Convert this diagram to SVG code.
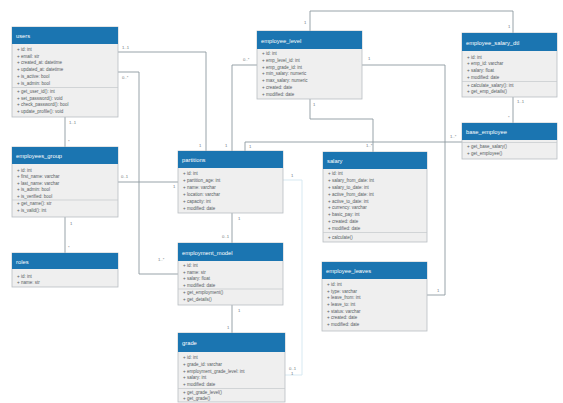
<svg xmlns="http://www.w3.org/2000/svg" width="563" height="403" viewBox="0 0 563 403">
<style>
.hd{fill:#1b75b1}
.bd{fill:#efefef;stroke:#b9bec2;stroke-width:0.8}
.tt{font-family:"Liberation Sans",Arial,sans-serif;font-size:5.8px;fill:#ffffff}
.rw{font-family:"Liberation Sans",Arial,sans-serif;font-size:4.5px;fill:#555b60}
.sp{stroke:#c4c8cb;stroke-width:0.7}
.cn{fill:none;stroke:#8d989f;stroke-width:0.9}
.fa{fill:none;stroke:#d3e6f0;stroke-width:0.9}
.lb{font-family:"Liberation Sans",Arial,sans-serif;font-size:4.2px;fill:#6f777c}
</style>
<rect width="563" height="403" fill="#ffffff"/>
<g id="connectors">
<polyline class="cn" points="65,117 65,147"/>
<polyline class="cn" points="65,217 65,253"/>
<polyline class="cn" points="118,52 206,52 206,151"/>
<polyline class="cn" points="118,72 139,72 139,274 178,274"/>
<polyline class="cn" points="118,182 178,182"/>
<polyline class="cn" points="257,65 232,65 232,151"/>
<polyline class="cn" points="462,142 245,142 245,151"/>
<polyline class="cn" points="310,99 310,119 373,119 373,152"/>
<polyline class="cn" points="310,31 310,11 513,11 513,33"/>
<polyline class="cn" points="513,97 513,123"/>
<polyline class="cn" points="362,65 445,65 445,295 427,295"/>
<polyline class="cn" points="232,213 232,243"/>
<polyline class="cn" points="232,305 232,333"/>
<polyline class="fa" points="283,180 302,180 302,375 285,375"/>
<text class="lb" x="69" y="124">1..1</text>
<text class="lb" x="68" y="143">*</text>
<text class="lb" x="70" y="225">1</text>
<text class="lb" x="68" y="249">*</text>
<text class="lb" x="122" y="49">1..1</text>
<text class="lb" x="199" y="147">1</text>
<text class="lb" x="122" y="79">0..*</text>
<text class="lb" x="158" y="261">1..*</text>
<text class="lb" x="121" y="178">0..1</text>
<text class="lb" x="173" y="188">1</text>
<text class="lb" x="243" y="61">0..*</text>
<text class="lb" x="225" y="147">1</text>
<text class="lb" x="450" y="138">1..*</text>
<text class="lb" x="249" y="148">1</text>
<text class="lb" x="313" y="106">1</text>
<text class="lb" x="366" y="147">1..*</text>
<text class="lb" x="304" y="24">1</text>
<text class="lb" x="508" y="28">1</text>
<text class="lb" x="517" y="103">1..1</text>
<text class="lb" x="508" y="119">*</text>
<text class="lb" x="368" y="60">1</text>
<text class="lb" x="437" y="292">1</text>
<text class="lb" x="238" y="220">1</text>
<text class="lb" x="222" y="238">0..1</text>
<text class="lb" x="238" y="312">1</text>
<text class="lb" x="227" y="329">1</text>
<text class="lb" x="291" y="177">1</text>
<text class="lb" x="289" y="370">0..1</text>
<text class="lb" x="291" y="375">1</text>
</g>
<g id="users">
<rect class="bd" x="12" y="27" width="106" height="90"/>
<rect class="hd" x="12" y="27" width="106" height="17"/>
<text class="tt" x="16" y="38">users</text>
<text class="rw" x="17" y="51">+ id: int</text>
<text class="rw" x="17" y="57.7">+ email: str</text>
<text class="rw" x="17" y="64.4">+ created_at: datetime</text>
<text class="rw" x="17" y="71.1">+ updated_at: datetime</text>
<text class="rw" x="17" y="77.8">+ is_active: bool</text>
<text class="rw" x="17" y="84.5">+ is_admin: bool</text>
<line class="sp" x1="12" y1="87.5" x2="118" y2="87.5"/>
<text class="rw" x="17" y="93">+ get_user_id(): int</text>
<text class="rw" x="17" y="99.5">+ set_password(): void</text>
<text class="rw" x="17" y="106">+ check_password(): bool</text>
<text class="rw" x="17" y="112.5">+ update_profile(): void</text>
</g>
<g id="employees_group">
<rect class="bd" x="12" y="147" width="106" height="70"/>
<rect class="hd" x="12" y="147" width="106" height="17"/>
<text class="tt" x="16" y="158">employees_group</text>
<text class="rw" x="17" y="171.5">+ id: int</text>
<text class="rw" x="17" y="178">+ first_name: varchar</text>
<text class="rw" x="17" y="184.5">+ last_name: varchar</text>
<text class="rw" x="17" y="191">+ is_admin: bool</text>
<text class="rw" x="17" y="197.5">+ is_verified: bool</text>
<line class="sp" x1="12" y1="200" x2="118" y2="200"/>
<text class="rw" x="17" y="205">+ get_name(): str</text>
<text class="rw" x="17" y="211.5">+ is_valid(): int</text>
</g>
<g id="roles">
<rect class="bd" x="12" y="253" width="106" height="34"/>
<rect class="hd" x="12" y="253" width="106" height="16"/>
<text class="tt" x="16" y="263.5">roles</text>
<text class="rw" x="17" y="277.5">+ id: int</text>
<text class="rw" x="17" y="283.5">+ name: str</text>
</g>
<g id="employee_level">
<rect class="bd" x="257" y="31" width="105" height="68"/>
<rect class="hd" x="257" y="31" width="105" height="18"/>
<text class="tt" x="261" y="42.5">employee_level</text>
<text class="rw" x="262" y="54.5">+ id: int</text>
<text class="rw" x="262" y="61.5">+ emp_level_id: int</text>
<text class="rw" x="262" y="68.5">+ emp_grade_id: int</text>
<text class="rw" x="262" y="75">+ min_salary: numeric</text>
<text class="rw" x="262" y="81.5">+ max_salary: numeric</text>
<text class="rw" x="262" y="88.5">+ created: date</text>
<text class="rw" x="262" y="95.5">+ modified: date</text>
</g>
<g id="employee_salary_dtl">
<rect class="bd" x="462" y="33" width="95" height="64"/>
<rect class="hd" x="462" y="33" width="95" height="18"/>
<text class="tt" x="466" y="44.5">employee_salary_dtl</text>
<text class="rw" x="467" y="58.5">+ id: int</text>
<text class="rw" x="467" y="65">+ emp_id: varchar</text>
<text class="rw" x="467" y="71.5">+ salary: float</text>
<text class="rw" x="467" y="78.5">+ modified: date</text>
<line class="sp" x1="462" y1="81.5" x2="557" y2="81.5"/>
<text class="rw" x="467" y="86.5">+ calculate_salary(): int</text>
<text class="rw" x="467" y="92.5">+ get_emp_details()</text>
</g>
<g id="base_employee">
<rect class="bd" x="462" y="123" width="95" height="36"/>
<rect class="hd" x="462" y="123" width="95" height="17"/>
<text class="tt" x="466" y="134">base_employee</text>
<line class="sp" x1="462" y1="142.5" x2="557" y2="142.5"/>
<text class="rw" x="467" y="148">+ get_base_salary()</text>
<text class="rw" x="467" y="155">+ get_employee()</text>
</g>
<g id="partitions">
<rect class="bd" x="178" y="151" width="105" height="62"/>
<rect class="hd" x="178" y="151" width="105" height="17"/>
<text class="tt" x="182" y="162">partitions</text>
<text class="rw" x="183" y="174.5">+ id: int</text>
<text class="rw" x="183" y="181.5">+ partition_age: int</text>
<text class="rw" x="183" y="188.5">+ name: varchar</text>
<text class="rw" x="183" y="195.5">+ location: varchar</text>
<text class="rw" x="183" y="202.5">+ capacity: int</text>
<text class="rw" x="183" y="209.5">+ modified: date</text>
</g>
<g id="employment_model">
<rect class="bd" x="178" y="243" width="105" height="62"/>
<rect class="hd" x="178" y="243" width="105" height="18"/>
<text class="tt" x="182" y="254.5">employment_model</text>
<text class="rw" x="183" y="266.5">+ id: int</text>
<text class="rw" x="183" y="273.5">+ name: str</text>
<text class="rw" x="183" y="280">+ salary: float</text>
<text class="rw" x="183" y="286.5">+ modified: date</text>
<line class="sp" x1="178" y1="289" x2="283" y2="289"/>
<text class="rw" x="183" y="294">+ get_employment()</text>
<text class="rw" x="183" y="300.5">+ get_details()</text>
</g>
<g id="grade">
<rect class="bd" x="178" y="333" width="107" height="69"/>
<rect class="hd" x="178" y="333" width="107" height="19"/>
<text class="tt" x="182" y="345">grade</text>
<text class="rw" x="183" y="358.5">+ id: int</text>
<text class="rw" x="183" y="365.5">+ grade_id: varchar</text>
<text class="rw" x="183" y="372.5">+ employment_grade_level: int</text>
<text class="rw" x="183" y="379">+ salary: int</text>
<text class="rw" x="183" y="385.5">+ modified: date</text>
<line class="sp" x1="178" y1="388.5" x2="285" y2="388.5"/>
<text class="rw" x="183" y="393.5">+ get_grade_level()</text>
<text class="rw" x="183" y="400">+ get_grade()</text>
</g>
<g id="salary">
<rect class="bd" x="323" y="152" width="104" height="90"/>
<rect class="hd" x="323" y="152" width="104" height="17"/>
<text class="tt" x="327" y="163">salary</text>
<text class="rw" x="328" y="174.5">+ id: int</text>
<text class="rw" x="328" y="181.5">+ salary_from_date: int</text>
<text class="rw" x="328" y="188.5">+ salary_to_date: int</text>
<text class="rw" x="328" y="195.5">+ active_from_date: int</text>
<text class="rw" x="328" y="202.5">+ active_to_date: int</text>
<text class="rw" x="328" y="209">+ currency: varchar</text>
<text class="rw" x="328" y="215.5">+ basic_pay: int</text>
<text class="rw" x="328" y="222.5">+ created: date</text>
<text class="rw" x="328" y="229.5">+ modified: date</text>
<line class="sp" x1="323" y1="232.5" x2="427" y2="232.5"/>
<text class="rw" x="328" y="238.5">+ calculate()</text>
</g>
<g id="employee_leaves">
<rect class="bd" x="322" y="262" width="105" height="69"/>
<rect class="hd" x="322" y="262" width="105" height="17"/>
<text class="tt" x="326" y="273">employee_leaves</text>
<text class="rw" x="327" y="285.5">+ id: int</text>
<text class="rw" x="327" y="292.5">+ type: varchar</text>
<text class="rw" x="327" y="299">+ leave_from: int</text>
<text class="rw" x="327" y="305.5">+ leave_to: int</text>
<text class="rw" x="327" y="312.5">+ status: varchar</text>
<text class="rw" x="327" y="319">+ created: date</text>
<text class="rw" x="327" y="325.5">+ modified: date</text>
</g>
</svg>
